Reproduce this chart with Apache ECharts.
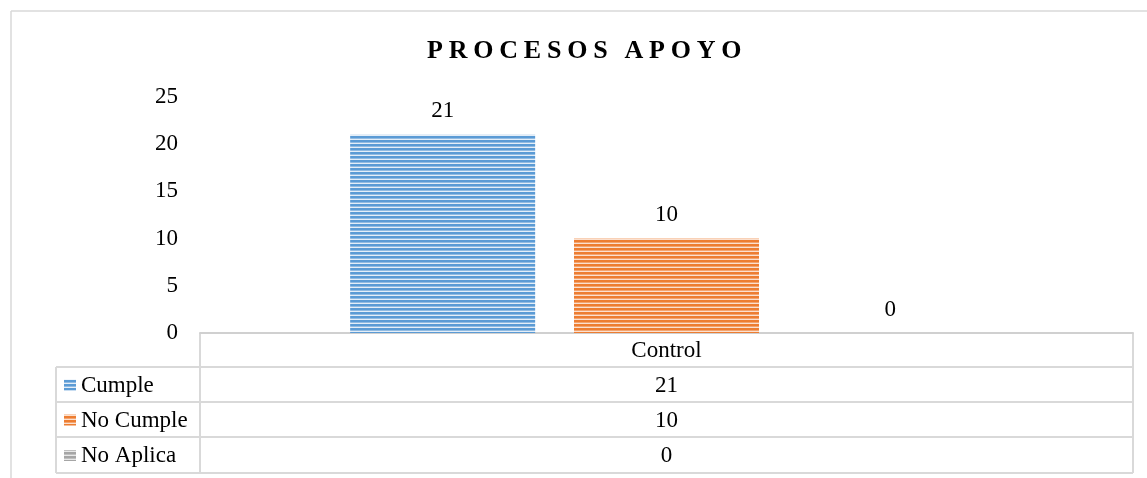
<!DOCTYPE html>
<html>
<head>
<meta charset="utf-8">
<script src="https://cdn.jsdelivr.net/npm/echarts@6/dist/echarts.min.js"></script>
<style>
  html, body { margin: 0; padding: 0; background: #fff; }
  #wrap { position: relative; width: 1147px; height: 478px; }
  #chart { width: 1147px; height: 478px; }
  #title {
    position: absolute; left: 427px; top: 35px;
    font: bold 26px "Liberation Serif", "Times New Roman", serif;
    letter-spacing: 5.8px; color: #000; white-space: nowrap;
  }
</style>
</head>
<body>
<div id="wrap">
  <div id="chart"></div>
  <div id="title">PROCESOS APOYO</div>
</div>
<script>
// data
const category = 'Control';
const seriesNames = ['Cumple', 'No Cumple', 'No Aplica'];
const seriesValues = [21, 10, 0];
const seriesColors = ['#5B9BD5', '#ED7D31', '#A5A5A5'];
const yTicks = [0, 5, 10, 15, 20, 25];

const FONT = '"Liberation Serif", "Times New Roman", serif';
const FS = 23;
const LINE = '#D9D9D9';

// horizontal stripe fill like the Excel pattern
function stripes(color) {
    const c = document.createElement('canvas');
    c.width = 4; c.height = 4;
    const ctx = c.getContext('2d');
    ctx.fillStyle = '#E4EEF8';
    if (color === '#ED7D31') ctx.fillStyle = '#FBE0CF';
    if (color === '#A5A5A5') ctx.fillStyle = '#E8E8E8';
    ctx.fillRect(0, 0, 4, 4);
    ctx.fillStyle = color;
    ctx.fillRect(0, 0, 4, 2.6);
    return { image: c, repeat: 'repeat' };
}

const chart = echarts.init(document.getElementById('chart'));

// table layout
const tblLeft = 56, colX = 200, tblRight = 1133;
const rowY = [333, 367, 402, 437, 473];
const midX = (colX + tblRight) / 2;

const g = [];
const ln = (x1, y1, x2, y2, w) => g.push({
    type: 'line', shape: { x1, y1, x2, y2 }, style: { stroke: LINE, lineWidth: w || 2 }, silent: true
});
// outer chart border (top + left)
ln(11, 11, 1147, 11, 1.5);
ln(11, 11, 11, 478, 1.5);
// table grid
for (let i = 1; i < rowY.length; i++) ln(tblLeft, rowY[i], tblRight, rowY[i]);
ln(colX, rowY[0], colX, rowY[4]);
ln(tblRight, rowY[0], tblRight, rowY[4]);
ln(tblLeft, rowY[1], tblLeft, rowY[4]);

g.push({ type: 'text', x: midX, y: (rowY[0] + rowY[1]) / 2 + 1,
    style: { text: category, font: FS + 'px ' + FONT, fill: '#000', align: 'center', verticalAlign: 'middle' } });
seriesNames.forEach((name, i) => {
    const cy = (rowY[i + 1] + rowY[i + 2]) / 2 + 1;
    g.push({ type: 'rect', shape: { x: 64, y: cy - 6, width: 12, height: 11 },
        style: { fill: stripes(seriesColors[i]) } });
    g.push({ type: 'text', x: 81, y: cy,
        style: { text: name, font: FS + 'px ' + FONT, fill: '#000', align: 'left', verticalAlign: 'middle' } });
    g.push({ type: 'text', x: midX, y: cy,
        style: { text: String(seriesValues[i]), font: FS + 'px ' + FONT, fill: '#000', align: 'center', verticalAlign: 'middle' } });
});

const option = {
    animation: false,
    grid: { left: 200, right: 14, top: 97, bottom: 145 },
    xAxis: {
        type: 'category', data: [category],
        axisLine: { lineStyle: { color: '#D0D0D0', width: 2 } },
        axisTick: { show: false }, axisLabel: { show: false }
    },
    yAxis: {
        type: 'value', min: yTicks[0], max: yTicks[yTicks.length - 1], interval: 5,
        axisLine: { show: false }, axisTick: { show: false }, splitLine: { show: false },
        axisLabel: { color: '#000', fontSize: FS, fontFamily: FONT, margin: 22 }
    },
    series: seriesNames.map((name, i) => ({
        name, type: 'bar', data: [seriesValues[i]],
        barWidth: 185, barGap: '21%',
        itemStyle: { color: stripes(seriesColors[i]) },
        label: { show: true, position: 'top', distance: 12, color: '#000', fontSize: FS, fontFamily: FONT }
    })),
    graphic: g
};
chart.setOption(option);
window.addEventListener('resize', () => chart.resize());
</script>
</body>
</html>
